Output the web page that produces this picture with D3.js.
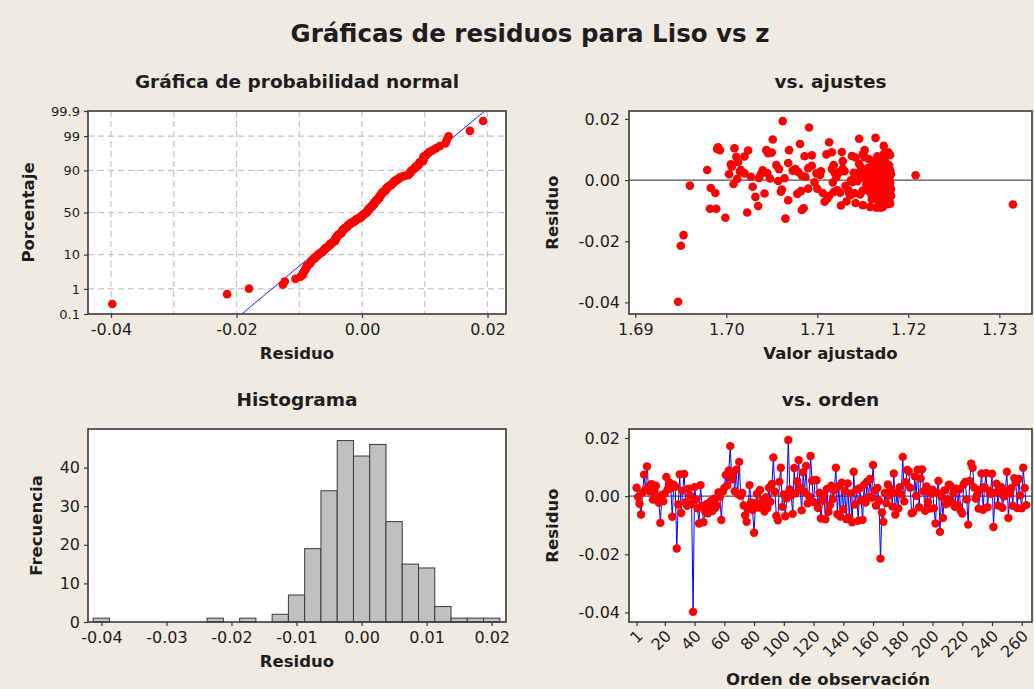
<!DOCTYPE html>
<html>
<head>
<meta charset="utf-8">
<script src="https://cdn.jsdelivr.net/npm/d3@7"></script>
<style>
body { margin: 0; background: #efebe0; }
svg text { font-family: "DejaVu Sans", Verdana, sans-serif; fill: #1e1e1e; }
</style>
</head>
<body>
<svg id="chart" width="1034" height="689"></svg>
<script>
var residuos = [
0.0029,-0.0003,-0.0026,-0.0063,0.0012,0.0074,0.0022,0.0102,0.0033,0.0016,
0.0041,-0.0012,0.0018,0.0036,-0.0008,-0.0023,-0.0092,0.0004,-0.0018,0.0009,
0.0066,0.0024,0.0047,0.0027,-0.0071,0.0039,0.0032,-0.0180,-0.0029,0.0075,
-0.0058,0.0019,0.0076,-0.0021,-0.0033,0.0026,0.0002,-0.0027,-0.0398,0.0031,
-0.0011,-0.0042,-0.0094,0.0038,-0.0034,-0.0090,-0.0052,-0.0028,-0.0059,-0.0044,
-0.0017,-0.0051,-0.0009,-0.0040,-0.0031,0.0013,-0.0002,-0.0082,0.0016,0.0028,
0.0073,0.0037,0.0088,0.0172,0.0058,0.0081,0.0017,0.0091,0.0007,0.0118,
0.0001,0.0011,-0.0032,-0.0066,-0.0088,-0.0043,0.0038,-0.0022,-0.0048,-0.0126,
-0.0024,0.0008,-0.0039,0.0021,-0.0030,-0.0013,-0.0053,-0.0004,-0.0041,0.0029,
-0.0019,0.0042,0.0133,0.0015,-0.0068,-0.0083,0.0049,0.0098,-0.0037,0.0006,
-0.0069,-0.0007,0.0193,0.0023,0.0003,-0.0061,0.0097,0.0010,0.0051,0.0124,
0.0030,-0.0049,0.0082,0.0014,0.0104,-0.0025,-0.0001,0.0138,0.0053,-0.0020,
0.0056,0.0055,-0.0041,0.0012,-0.0077,-0.0016,0.0005,-0.0080,0.0025,-0.0054,
-0.0031,0.0036,-0.0010,0.0020,0.0098,-0.0062,0.0034,-0.0070,0.0046,-0.0045,
0.0018,-0.0079,0.0044,-0.0073,0.0009,-0.0090,0.0084,-0.0029,0.0022,-0.0085,
0.0027,-0.0014,-0.0081,0.0039,-0.0022,0.0050,-0.0003,0.0059,-0.0006,0.0107,
0.0019,-0.0032,0.0028,-0.0016,-0.0215,-0.0056,-0.0088,0.0011,-0.0024,0.0040,
0.0002,0.0024,-0.0036,0.0078,-0.0063,0.0013,-0.0042,0.0031,0.0006,0.0135,
-0.0018,0.0048,0.0090,0.0085,0.0029,-0.0059,-0.0055,0.0068,0.0001,0.0091,
-0.0038,0.0061,0.0092,0.0017,-0.0050,0.0033,-0.0021,-0.0043,0.0008,0.0022,
-0.0042,-0.0094,0.0012,0.0052,-0.0123,-0.0002,-0.0075,0.0020,-0.0028,-0.0011,
0.0039,0.0036,-0.0023,0.0010,-0.0037,0.0026,-0.0031,0.0023,-0.0051,-0.0060,
0.0041,0.0049,-0.0012,-0.0098,0.0052,0.0112,0.0098,0.0030,-0.0008,0.0003,
-0.0043,0.0021,0.0078,-0.0047,0.0031,0.0079,-0.0038,0.0019,0.0008,0.0077,
-0.0106,0.0012,0.0043,-0.0032,0.0017,0.0032,-0.0040,-0.0001,0.0019,0.0084,
-0.0075,0.0009,0.0027,-0.0033,0.0062,0.0048,-0.0041,0.0059,0.0002,-0.0042,
0.0098,0.0028,-0.0031
];

// Valores ajustados, mismo orden que los residuos
var ajustes = [
1.7155,1.7168,1.6983,1.7160,1.7176,1.7142,1.7020,1.6990,1.6979,1.7208,
1.7148,1.7171,1.7163,1.7058,1.7180,1.7157,1.7085,1.7012,1.6960,1.7166,
1.7174,1.7140,1.7094,1.7179,1.7108,1.7164,1.7040,1.6953,1.7170,1.7152,
1.7175,1.7003,1.7011,1.7159,1.7122,1.7167,1.7145,1.7178,1.6947,1.7073,
1.7162,1.6988,1.6989,1.7170,1.7150,1.7170,1.7181,1.7100,1.7166,1.7042,
1.7173,1.7113,1.7156,1.7177,1.7061,1.7147,1.7168,1.7150,1.7174,1.7015,
1.7169,1.7128,1.7046,1.7091,1.7161,1.7094,1.7154,1.7178,1.7036,1.7081,
1.7162,1.7087,1.7176,1.7068,1.7158,1.7141,1.7172,1.7029,1.7165,1.7065,
1.7180,1.7153,1.7118,1.7167,1.7175,1.7008,1.7160,1.7144,1.7171,1.7104,
1.7131,1.7177,1.7051,1.7163,1.7179,1.7126,1.7055,1.6993,1.7157,1.7174,
1.7168,1.7097,1.7062,1.7149,1.7178,1.7111,1.7024,1.7165,1.7172,1.7113,
1.7159,1.7176,1.7180,1.7083,1.7009,1.7170,1.7137,1.7164,1.7146,1.7166,
1.7068,1.7175,1.7125,1.7169,1.7180,1.7155,1.7048,1.7315,1.7177,1.7162,
1.7173,1.7116,1.7165,1.7179,1.7044,1.7171,1.7158,1.7132,1.7170,1.7078,
1.7160,1.7177,1.7006,1.7168,1.7121,1.7165,1.7110,1.7181,1.7143,1.7035,
1.7175,1.7154,1.7169,1.7090,1.7177,1.7163,1.7057,1.7172,1.7139,1.6991,
1.7167,1.7134,1.7180,1.7162,1.6950,1.7176,1.7172,1.7027,1.7170,1.7156,
1.7174,1.7119,1.7082,1.7166,1.7178,1.7161,1.7106,1.7178,1.7064,1.7146,
1.7165,1.7179,1.7050,1.7173,1.7130,1.7169,1.7032,1.7157,1.7176,1.7116,
1.7180,1.7163,1.7127,1.7171,1.7136,1.7016,1.7177,1.7167,1.7151,1.7099,
1.7172,1.6982,1.7178,1.7005,1.6999,1.7160,1.7142,1.7168,1.7090,1.7175,
1.7164,1.7076,1.7179,1.7170,1.7164,1.7124,1.7173,1.7045,1.7181,1.7166,
1.7174,1.7118,1.7177,1.7083,1.7169,1.7173,1.7069,1.7158,1.7117,1.7179,
1.7167,1.7176,1.7086,1.7147,1.7168,1.7138,1.7060,1.7181,1.7161,1.7020,
1.7023,1.7171,1.7175,1.7163,1.7103,1.7180,1.7170,1.7166,1.7038,1.7150,
1.7176,1.7172,1.7079,1.7178,1.7128,1.7164,1.7174,1.7013,1.7155,1.7135,
1.7152,1.7171,1.7174
];

// Histograma: centros de clase y frecuencias
var centrosClase = [-0.04, -0.0225, -0.0175, -0.0125, -0.01, -0.0075, -0.005, -0.0025,
    0, 0.0025, 0.005, 0.0075, 0.01, 0.0125, 0.015, 0.0175, 0.02];
var frecuencias = [1, 1, 1, 2, 7, 19, 34, 47, 43, 46, 26, 15, 14, 4, 1, 1, 1];
var anchoClase = 0.0025;

// Marcas de los ejes
var ticksPct = [0.1, 1, 10, 50, 90, 99, 99.9];
var etiquetasPct = ["0.1", "1", "10", "50", "90", "99", "99.9"];
var ticksResNormal = [-0.04, -0.02, 0, 0.02];
var gridResNormal = [-0.04, -0.03, -0.02, -0.01, 0, 0.01, 0.02];
var ticksAjuste = [1.69, 1.70, 1.71, 1.72, 1.73];
var ticksResiduo = [-0.04, -0.02, 0, 0.02];
var ticksHistX = [-0.04, -0.03, -0.02, -0.01, 0, 0.01, 0.02];
var ticksFrec = [0, 10, 20, 30, 40];
var ticksOrden = [1, 20, 40, 60, 80, 100, 120, 140, 160, 180, 200, 220, 240, 260];

var svg = d3.select('#chart');
var f2 = function(d) { return d.toFixed(2); };

// inversa de la normal (Acklam)
function probit(p) {
    var a = [-39.69683028665376, 220.9460984245205, -275.9285104469687, 138.3577518672690, -30.66479806614716, 2.506628277459239],
        b = [-54.47609879822406, 161.5858368580409, -155.6989798598866, 66.80131188771972, -13.28068155288572],
        c = [-0.007784894002430293, -0.3223964580411365, -2.400758277161838, -2.549732539343734, 4.374664141464968, 2.938163982698783],
        d = [0.007784695709041462, 0.3224671290700398, 2.445134137142996, 3.754408661907416];
    var q, r;
    if (p < 0.02425) {
        q = Math.sqrt(-2 * Math.log(p));
        return (((((c[0]*q+c[1])*q+c[2])*q+c[3])*q+c[4])*q+c[5]) / ((((d[0]*q+d[1])*q+d[2])*q+d[3])*q+1);
    } else if (p > 1 - 0.02425) {
        q = Math.sqrt(-2 * Math.log(1 - p));
        return -(((((c[0]*q+c[1])*q+c[2])*q+c[3])*q+c[4])*q+c[5]) / ((((d[0]*q+d[1])*q+d[2])*q+d[3])*q+1);
    }
    q = p - 0.5; r = q * q;
    return (((((a[0]*r+a[1])*r+a[2])*r+a[3])*r+a[4])*r+a[5])*q / (((((b[0]*r+b[1])*r+b[2])*r+b[3])*r+b[4])*r+1);
}

svg.append('text')
    .attr('x', 530).attr('y', 42)
    .attr('text-anchor', 'middle')
    .style('font-size', '24.5px').style('font-weight', 'bold')
    .text('Gráficas de residuos para Liso vs z');

function panel(box, titulo, tituloX, tituloY, yTituloY) {
    var g = svg.append('g');
    g.append('rect')
        .attr('x', box.x0).attr('y', box.y0)
        .attr('width', box.x1 - box.x0).attr('height', box.y1 - box.y0)
        .attr('fill', '#fff');
    g.append('text')
        .attr('x', (box.x0 + box.x1) / 2)
        .attr('y', box.y0 - 23)
        .attr('text-anchor', 'middle')
        .style('font-size', '18.5px').style('font-weight', 'bold')
        .text(titulo);
    g.append('text')
        .attr('x', (box.x0 + box.x1) / 2)
        .attr('y', box.y1 + 45)
        .attr('text-anchor', 'middle')
        .style('font-size', '16.5px').style('font-weight', 'bold')
        .text(tituloX);
    g.append('text')
        .attr('transform', 'translate(' + yTituloY + ',' + (box.y0 + box.y1) / 2 + ') rotate(-90)')
        .attr('text-anchor', 'middle')
        .attr('dy', '0.35em')
        .style('font-size', '16.5px').style('font-weight', 'bold')
        .text(tituloY);
    return g;
}

function marco(g, box) {
    g.append('rect')
        .attr('x', box.x0).attr('y', box.y0)
        .attr('width', box.x1 - box.x0).attr('height', box.y1 - box.y0)
        .attr('fill', 'none').attr('stroke', '#3a3a3a').attr('stroke-width', 1.6);
}

function estiloEje(sel, size) {
    sel.select('.domain').remove();
    sel.selectAll('.tick line').attr('stroke', '#3a3a3a').attr('stroke-width', 1.2);
    sel.selectAll('.tick text').style('font-size', size).attr('fill', '#1e1e1e')
        .style('font-family', '"DejaVu Sans", Verdana, sans-serif');
}

// ---------- Grafica de probabilidad normal ----------
var bN = {x0: 88, x1: 506, y0: 111, y1: 314};
var gN = panel(bN, 'Gráfica de probabilidad normal', 'Residuo', 'Porcentaje', 28);
var xN = d3.scaleLinear().domain([-0.04367, 0.02295]).range([bN.x0, bN.x1]);
var yN = d3.scaleLinear().domain([probit(0.001), probit(0.999)]).range([bN.y1, bN.y0]);

gN.selectAll('.gv').data(gridResNormal).enter().append('line')
    .attr('x1', d => xN(d)).attr('x2', d => xN(d))
    .attr('y1', bN.y0).attr('y2', bN.y1)
    .attr('stroke', '#c4c4c4').attr('stroke-width', 1.2).attr('stroke-dasharray', '6,4');
gN.selectAll('.gh').data(ticksPct.slice(1, -1)).enter().append('line')
    .attr('x1', bN.x0).attr('x2', bN.x1)
    .attr('y1', d => yN(probit(d / 100))).attr('y2', d => yN(probit(d / 100)))
    .attr('stroke', '#c4c4c4').attr('stroke-width', 1.2).attr('stroke-dasharray', '6,4');

var n = residuos.length;
var ordenados = residuos.slice().sort(d3.ascending);
var media = d3.mean(residuos), desv = d3.deviation(residuos);
var zMax = probit(0.999);

gN.append('clipPath').attr('id', 'clipN').append('rect')
    .attr('x', bN.x0).attr('y', bN.y0).attr('width', bN.x1 - bN.x0).attr('height', bN.y1 - bN.y0);
gN.append('line')
    .attr('clip-path', 'url(#clipN)')
    .attr('x1', xN(media - desv * zMax)).attr('y1', yN(-zMax))
    .attr('x2', xN(media + desv * zMax)).attr('y2', yN(zMax))
    .attr('stroke', '#0000ff').attr('stroke-width', 0.9);

gN.selectAll('.pt').data(ordenados).enter().append('circle')
    .attr('cx', d => xN(d))
    .attr('cy', (d, i) => yN(probit((i + 1 - 0.3) / (n + 0.4))))
    .attr('r', 4.3).attr('fill', '#ff0000');

gN.append('g').attr('transform', 'translate(0,' + bN.y1 + ')')
    .call(d3.axisBottom(xN).tickValues(ticksResNormal).tickFormat(f2).tickSize(4).tickPadding(6))
    .call(estiloEje, '16px');
gN.append('g').attr('transform', 'translate(' + bN.x0 + ',0)')
    .call(d3.axisLeft(yN).tickValues(ticksPct.map(p => probit(p / 100)))
        .tickFormat((d, i) => etiquetasPct[i]).tickSize(4).tickPadding(4))
    .call(estiloEje, '13px');
marco(gN, bN);

// ---------- vs. ajustes ----------
var bA = {x0: 629, x1: 1032, y0: 111, y1: 314};
var gA = panel(bA, 'vs. ajustes', 'Valor ajustado', 'Residuo', 552);
var xA = d3.scaleLinear().domain([1.68931, 1.73359]).range([bA.x0, bA.x1]);
var yA = d3.scaleLinear().domain([-0.0438, 0.0226]).range([bA.y1, bA.y0]);
gA.append('line')
    .attr('x1', bA.x0).attr('x2', bA.x1).attr('y1', yA(0)).attr('y2', yA(0))
    .attr('stroke', '#505050').attr('stroke-width', 1.3);
gA.selectAll('.pt').data(d3.range(n)).enter().append('circle')
    .attr('cx', i => xA(ajustes[i])).attr('cy', i => yA(residuos[i]))
    .attr('r', 4.3).attr('fill', '#ff0000');
gA.append('g').attr('transform', 'translate(0,' + bA.y1 + ')')
    .call(d3.axisBottom(xA).tickValues(ticksAjuste).tickFormat(f2).tickSize(4).tickPadding(6))
    .call(estiloEje, '16px');
gA.append('g').attr('transform', 'translate(' + bA.x0 + ',0)')
    .call(d3.axisLeft(yA).tickValues(ticksResiduo).tickFormat(f2).tickSize(4).tickPadding(5))
    .call(estiloEje, '16px');
marco(gA, bA);

// ---------- Histograma ----------
var bH = {x0: 88, x1: 506, y0: 429, y1: 622};
var gH = panel(bH, 'Histograma', 'Residuo', 'Frecuencia', 36);
var xH = d3.scaleLinear().domain([-0.04206, 0.0222]).range([bH.x0, bH.x1]);
var yH = d3.scaleLinear().domain([0, 50]).range([bH.y1, bH.y0]);
gH.selectAll('.bar').data(centrosClase).enter().append('rect')
    .attr('x', d => xH(d - anchoClase / 2))
    .attr('width', d => xH(d + anchoClase / 2) - xH(d - anchoClase / 2))
    .attr('y', (d, i) => yH(frecuencias[i]))
    .attr('height', (d, i) => yH(0) - yH(frecuencias[i]))
    .attr('fill', '#c0c0c0').attr('stroke', '#3a3a3a').attr('stroke-width', 1);
gH.append('g').attr('transform', 'translate(0,' + bH.y1 + ')')
    .call(d3.axisBottom(xH).tickValues(ticksHistX).tickFormat(f2).tickSize(4).tickPadding(6))
    .call(estiloEje, '16px');
gH.append('g').attr('transform', 'translate(' + bH.x0 + ',0)')
    .call(d3.axisLeft(yH).tickValues(ticksFrec).tickSize(4).tickPadding(4))
    .call(estiloEje, '16px');
marco(gH, bH);

// ---------- vs. orden ----------
var bO = {x0: 629, x1: 1032, y0: 429, y1: 622};
var gO = panel(bO, 'vs. orden', '', 'Residuo', 552);
var xO = d3.scaleLinear().domain([-4.1, 266.9]).range([bO.x0, bO.x1]);
var yO = d3.scaleLinear().domain([-0.0433, 0.0231]).range([bO.y1, bO.y0]);
gO.append('line')
    .attr('x1', bO.x0).attr('x2', bO.x1).attr('y1', yO(0)).attr('y2', yO(0))
    .attr('stroke', '#505050').attr('stroke-width', 1.3);
gO.append('path')
    .datum(residuos)
    .attr('d', d3.line().x((d, i) => xO(i + 1)).y(d => yO(d)))
    .attr('fill', 'none').attr('stroke', '#0000ff').attr('stroke-width', 1);
gO.selectAll('.pt').data(residuos).enter().append('circle')
    .attr('cx', (d, i) => xO(i + 1)).attr('cy', d => yO(d))
    .attr('r', 4.2).attr('fill', '#ff0000');
var ejeO = gO.append('g').attr('transform', 'translate(0,' + bO.y1 + ')')
    .call(d3.axisBottom(xO).tickValues(ticksOrden).tickSize(4).tickPadding(4))
    .call(estiloEje, '16px');
ejeO.selectAll('.tick text')
    .attr('x', 0).attr('y', 0)
    .attr('text-anchor', 'end')
    .attr('transform', 'translate(3,11) rotate(-45)')
    .attr('dy', '0.35em');
gO.append('g').attr('transform', 'translate(' + bO.x0 + ',0)')
    .call(d3.axisLeft(yO).tickValues(ticksResiduo).tickFormat(f2).tickSize(4).tickPadding(5))
    .call(estiloEje, '16px');
marco(gO, bO);
svg.append('text')
    .attr('x', 828).attr('y', 685)
    .attr('text-anchor', 'middle')
    .style('font-size', '16.5px').style('font-weight', 'bold')
    .text('Orden de observación');
</script>
</body>
</html>
